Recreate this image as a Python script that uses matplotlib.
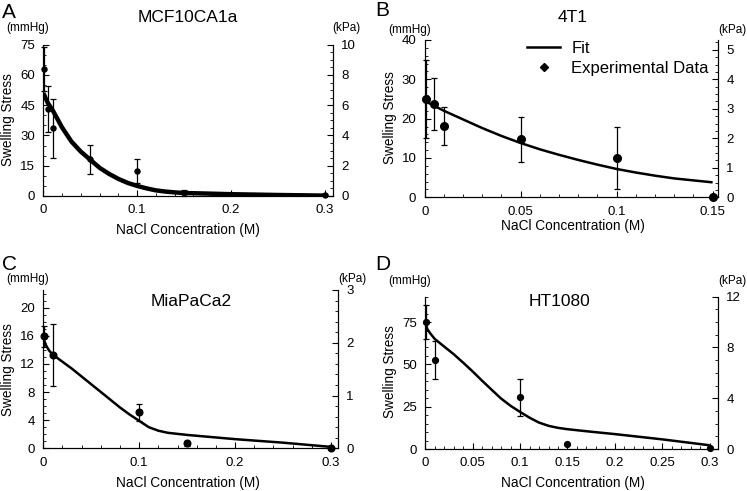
import matplotlib
matplotlib.use("Agg")
import matplotlib.pyplot as plt
from matplotlib.ticker import MultipleLocator
from matplotlib.lines import Line2D

plt.rcParams['font.family'] = ['Liberation Sans', 'DejaVu Sans']

# ---- data (NaCl in M, stress in mmHg) ----
# A: MCF10CA1a
a_x = [0.001, 0.005, 0.01, 0.05, 0.1, 0.15, 0.3]
a_y = [63, 43, 33.5, 18.3, 12.4, 1.5, 0.3]
a_err = [11, 11.5, 14.7, 7.2, 6.0, 1.5, 0]
a_fit_x = [0, 0.005, 0.01, 0.02, 0.03, 0.04, 0.05, 0.06, 0.07, 0.08, 0.09, 0.1,
           0.11, 0.12, 0.13, 0.14, 0.15, 0.2, 0.25, 0.3]
a_fit_y = [51, 46, 42.5, 34, 27, 22, 18, 14, 11, 8.5, 6.5, 5,
           3.8, 2.8, 2.2, 1.8, 1.5, 0.9, 0.5, 0.2]

# B: 4T1
b_x = [0.0005, 0.005, 0.01, 0.05, 0.1, 0.15]
b_y = [25, 23.7, 18.1, 14.7, 9.9, 0.2]
b_err = [10, 6.7, 4.9, 5.6, 7.9, 0]
b_fit_x = [0, 0.01, 0.02, 0.03, 0.04, 0.05, 0.06, 0.07, 0.08, 0.09, 0.1,
           0.11, 0.12, 0.13, 0.14, 0.15]
b_fit_y = [24.5, 22.0, 19.8, 17.6, 15.6, 13.8, 12.2, 10.8, 9.5, 8.3, 7.2,
           6.3, 5.5, 4.8, 4.3, 3.8]

# C: MiaPaCa2
c_x = [0.001, 0.01, 0.1, 0.15, 0.3]
c_y = [15.9, 13.3, 5.1, 0.7, 0.05]
c_err = [1.5, 4.4, 1.2, 0.4, 0]
c_fit_x = [0, 0.003, 0.006, 0.01, 0.02, 0.03, 0.04, 0.05, 0.06, 0.07, 0.08, 0.09,
           0.1, 0.11, 0.12, 0.13, 0.15, 0.2, 0.25, 0.3]
c_fit_y = [15.6, 14.6, 13.9, 13.3, 12.3, 11.3, 10.2, 9.1, 8.0, 6.9, 5.8, 4.8,
           3.9, 3.0, 2.5, 2.2, 1.9, 1.3, 0.8, 0.2]

# D: HT1080
d_x = [0.001, 0.01, 0.1, 0.15, 0.3]
d_y = [75.2, 52.7, 30.6, 2.7, 0.4]
d_err = [10, 11.4, 11, 0, 0]
d_fit_x = [0, 0.002, 0.005, 0.01, 0.02, 0.03, 0.04, 0.05, 0.06, 0.07, 0.08, 0.09,
           0.1, 0.11, 0.12, 0.13, 0.14, 0.15, 0.175, 0.2, 0.25, 0.3]
d_fit_y = [75.5, 71, 68.5, 65, 60.5, 56, 51, 45.8, 40.3, 35, 29.8, 25.5,
           21.9, 18.5, 15.6, 13.7, 12.5, 11.7, 10.2, 8.8, 5.7, 2.2]

# tick labels
x_ticks_03 = [0, 0.1, 0.2, 0.3]
x_labels_03 = ['0', '0.1', '0.2', '0.3']
x_ticks_015 = [0, 0.05, 0.1, 0.15]
x_labels_015 = ['0', '0.05', '0.1', '0.15']
x_ticks_d = [0, 0.05, 0.1, 0.15, 0.2, 0.25, 0.3]
x_labels_d = ['0', '0.05', '0.1', '0.15', '0.2', '0.25', '0.3']

MMHG_PER_KPA = 7.5

W, H = 747, 491
fig = plt.figure(figsize=(W / 100, H / 100), dpi=100)


def px(x, y):
    # pixel coords (from top-left) -> figure fraction
    return x / W, 1 - y / H


def panel(rect, fx, fy, ex, ey, ee, xlim, xticks, xlabels, xmin, ylim, ymaj, ymin,
          kmaj, kmin, lw, ms):
    l, t, r, b = rect
    ax = fig.add_axes([l / W, 1 - b / H, (r - l) / W, (b - t) / H])
    ax.plot(fx, fy, color='black', lw=lw, solid_capstyle='butt', zorder=2)
    ax.errorbar(ex, ey, yerr=ee, fmt='o', color='black', ms=ms, elinewidth=0.9,
                capsize=2.5, capthick=0.9, zorder=3, clip_on=False)
    ax.set_xlim(*xlim)
    ax.set_ylim(*ylim)
    ax.spines['top'].set_visible(False)
    ax.set_xticks(xticks, xlabels)
    ax.xaxis.set_minor_locator(MultipleLocator(xmin))
    ax.yaxis.set_major_locator(MultipleLocator(ymaj))
    ax.yaxis.set_minor_locator(MultipleLocator(ymin))
    ax.tick_params(which='both', direction='in', labelsize=9.5, top=False)
    ax.tick_params(which='major', length=4, pad=6)
    ax.tick_params(which='minor', length=2.5)

    ax2 = ax.twinx()
    ax2.set_ylim(ylim[0] / MMHG_PER_KPA, ylim[1] / MMHG_PER_KPA)
    ax2.yaxis.set_major_locator(MultipleLocator(kmaj))
    ax2.yaxis.set_minor_locator(MultipleLocator(kmin))
    ax2.spines['top'].set_visible(False)
    ax2.tick_params(which='both', direction='in', labelsize=9.5)
    ax2.tick_params(which='major', length=4, pad=6)
    ax2.tick_params(which='minor', length=2.5)
    return ax


# A
axA = panel((43.3, 44.7, 333, 196), a_fit_x, a_fit_y, a_x, a_y, a_err,
            (0, 0.309), x_ticks_03, x_labels_03, 0.02, (0, 75), 15, 5, 2, 0.5, 3.2, 3.6)
# B
axB = panel((424.7, 40, 718, 197.3), b_fit_x, b_fit_y, b_x, b_y, b_err,
            (0, 0.1528), x_ticks_015, x_labels_015, 0.01, (0, 40), 10, 2, 1, 0.25, 1.8, 5.5)
# C
axC = panel((43.3, 290, 338, 448.3), c_fit_x, c_fit_y, c_x, c_y, c_err,
            (0, 0.3073), x_ticks_03, x_labels_03, 0.02, (0, 22.5), 4, 1, 1, 0.2, 1.8, 4.8)
# D
axD = panel((425.3, 296.7, 718, 449), d_fit_x, d_fit_y, d_x, d_y, d_err,
            (0, 0.3088), x_ticks_d, x_labels_d, 0.01, (0, 90), 25, 5, 4, 1, 1.8, 4.2)

# legend in B
handles = [Line2D([], [], color='black', lw=1.8),
           Line2D([], [], color='black', marker='D', ls='none', ms=4)]
fig.legend(handles, ['Fit', 'Experimental Data'], loc='upper left',
           bbox_to_anchor=px(527, 41), frameon=False, fontsize=12,
           borderpad=0, borderaxespad=0,
           handlelength=2.0, handletextpad=0.65, labelspacing=0.3)

# titles, panel letters, units, axis labels
fig.text(*px(188, 18), 'MCF10CA1a', fontsize=12.5, ha='center', va='center')
fig.text(*px(573, 17), '4T1', fontsize=12.5, ha='center', va='center')
fig.text(*px(191, 302), 'MiaPaCa2', fontsize=12.5, ha='center', va='center')
fig.text(*px(559, 302), 'HT1080', fontsize=12.5, ha='center', va='center')

for letter, x, y in [('A', 2, 12), ('B', 375, 10), ('C', 2, 264), ('D', 375, 264)]:
    fig.text(*px(x, y), letter, fontsize=15, ha='left', va='center')

for x, y in [(28, 28), (410, 30), (28, 279), (410, 281)]:
    fig.text(*px(x, y), '(mmHg)', fontsize=8.5, ha='center', va='center')
for x, y in [(346, 28), (732, 30), (352, 279), (732, 281)]:
    fig.text(*px(x, y), '(kPa)', fontsize=8.5, ha='center', va='center')

for x, y in [(8, 120), (390, 118), (8, 370), (390, 372)]:
    fig.text(*px(x, y), 'Swelling Stress', fontsize=9.8, rotation=90,
             ha='center', va='center')
for x, y in [(188, 230), (573, 226), (188, 483), (573, 483)]:
    fig.text(*px(x, y), 'NaCl Concentration (M)', fontsize=9.8,
             ha='center', va='center')

plt.savefig('out.png', dpi=100)
